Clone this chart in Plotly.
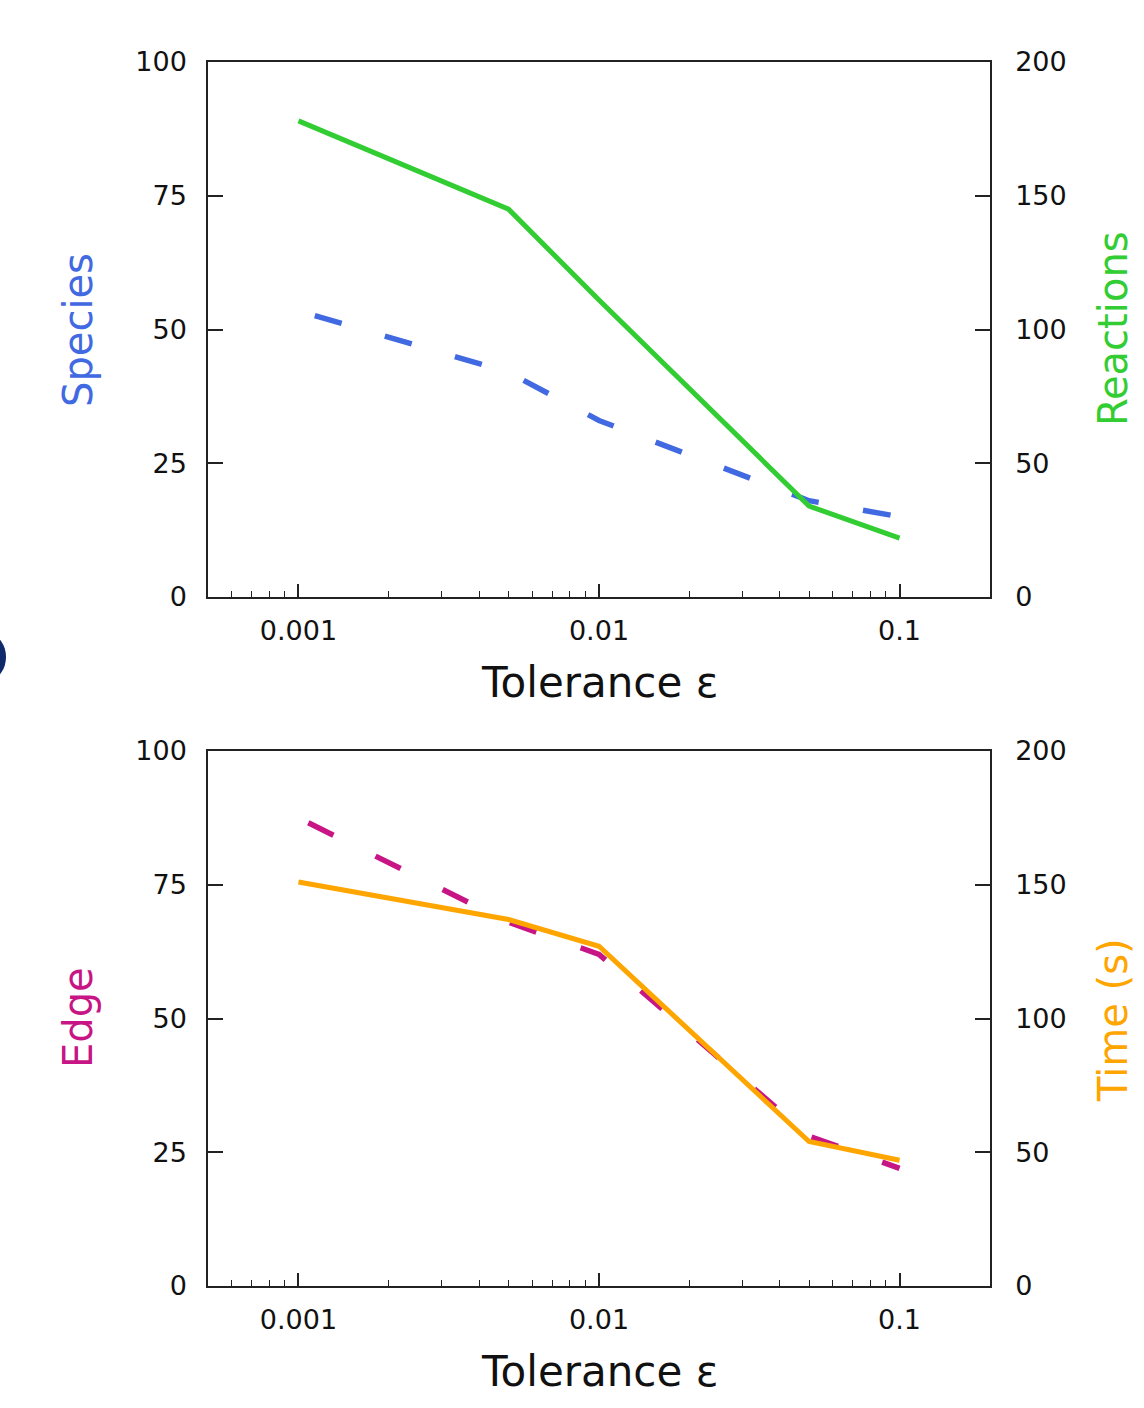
import math
import plotly.graph_objects as go

# ---- data ----
tolerance = [0.001, 0.005, 0.01, 0.05, 0.1]
species = [53.5, 42, 33, 18, 15]
reactions = [178, 145, 111, 34, 22]
edge = [87.5, 68, 62, 28, 22]
time_s = [151, 137, 127, 54, 47]

major_ticks = [0.001, 0.01, 0.1]
major_labels = ["0.001", "0.01", "0.1"]
minor_ticks = [0.0006, 0.0007, 0.0008, 0.0009,
               0.002, 0.003, 0.004, 0.005, 0.006, 0.007, 0.008, 0.009,
               0.02, 0.03, 0.04, 0.05, 0.06, 0.07, 0.08, 0.09]
left_ticks = [0, 25, 50, 75, 100]
right_ticks = [0, 50, 100, 150, 200]

BLUE = "#4169E1"
GREEN = "#32CD32"
MAGENTA = "#C71585"
ORANGE = "#FFA500"
FONT = "DejaVu Sans"

fig = go.Figure()
fig.add_trace(go.Scatter(x=tolerance, y=species, mode="lines", xaxis="x", yaxis="y",
                         line=dict(color=BLUE, width=5.5, dash="0px,17px,28px,28px")))
fig.add_trace(go.Scatter(x=tolerance, y=reactions, mode="lines", xaxis="x", yaxis="y2",
                         line=dict(color=GREEN, width=5)))
fig.add_trace(go.Scatter(x=tolerance, y=edge, mode="lines", xaxis="x2", yaxis="y3",
                         line=dict(color=MAGENTA, width=5.5, dash="0px,11px,28px,36px")))
fig.add_trace(go.Scatter(x=tolerance, y=time_s, mode="lines", xaxis="x2", yaxis="y4",
                         line=dict(color=ORANGE, width=5)))

xr = [math.log10(0.0005), math.log10(0.2)]
tickfont = dict(family=FONT, size=27, color="#111")

def xax(anchor):
    return dict(type="log", range=xr, domain=[0, 1], anchor=anchor,
                tickmode="array", tickvals=major_ticks, ticktext=major_labels,
                ticks="inside", ticklen=13, tickwidth=1.5, tickcolor="#222",
                showline=True, linecolor="#222", linewidth=1.5, mirror=True,
                showgrid=False, zeroline=False, tickfont=tickfont,
                ticklabelstandoff=9,
                minor=dict(tickmode="array", tickvals=minor_ticks, ticks="inside",
                           ticklen=6, tickwidth=1.2, tickcolor="#222", showgrid=False))

def yleft(domain, anchor):
    return dict(range=[0, 100], domain=domain, anchor=anchor, side="left",
                tickmode="array", tickvals=left_ticks,
                ticks="inside", ticklen=15, tickwidth=1.5, tickcolor="#222",
                showline=True, linecolor="#222", linewidth=1.5, mirror=True,
                showgrid=False, zeroline=False, tickfont=tickfont,
                ticklabelstandoff=14)

def yright(overlay, anchor):
    return dict(range=[0, 200], overlaying=overlay, anchor=anchor, side="right",
                tickmode="array", tickvals=right_ticks,
                ticks="inside", ticklen=15, tickwidth=1.5, tickcolor="#222",
                showline=True, linecolor="#222", linewidth=1.5,
                showgrid=False, zeroline=False, tickfont=tickfont,
                ticklabelstandoff=18)

top_dom = [1 - 535 / 1224, 1]
bot_dom = [0, 535 / 1224]

def px_x(p):
    return (p - 208) / 782

def px_y(p):
    return (1286 - p) / 1224

annotations = [
    dict(text="Tolerance ε", x=px_x(599), y=px_y(682), font=dict(family=FONT, size=42, color="#111")),
    dict(text="Tolerance ε", x=px_x(599), y=px_y(1371), font=dict(family=FONT, size=42, color="#111")),
    dict(text="Species", x=px_x(78), y=px_y(330), textangle=-90, font=dict(family=FONT, size=40, color=BLUE)),
    dict(text="Reactions", x=px_x(1113), y=px_y(329), textangle=-90, font=dict(family=FONT, size=40, color=GREEN)),
    dict(text="Edge", x=px_x(78), y=px_y(1018), textangle=-90, font=dict(family=FONT, size=40, color=MAGENTA)),
    dict(text="Time (s)", x=px_x(1113), y=px_y(1020), textangle=-90, font=dict(family=FONT, size=40, color=ORANGE)),
]
for a in annotations:
    a.update(xref="paper", yref="paper", showarrow=False, xanchor="center", yanchor="middle")

shapes = [dict(type="circle", xref="paper", yref="paper",
               x0=px_x(-26), x1=px_x(6), y0=px_y(679), y1=px_y(635),
               fillcolor="#0F2A6B", line=dict(width=0))]

fig.update_layout(
    width=1144, height=1408,
    margin=dict(l=208, r=154, t=62, b=122),
    paper_bgcolor="white", plot_bgcolor="white",
    showlegend=False,
    xaxis=xax("y"), yaxis=yleft(top_dom, "x"), yaxis2=yright("y", "x"),
    xaxis2=xax("y3"), yaxis3=yleft(bot_dom, "x2"), yaxis4=yright("y3", "x2"),
    annotations=annotations, shapes=shapes,
)

fig.write_html("out.html")
